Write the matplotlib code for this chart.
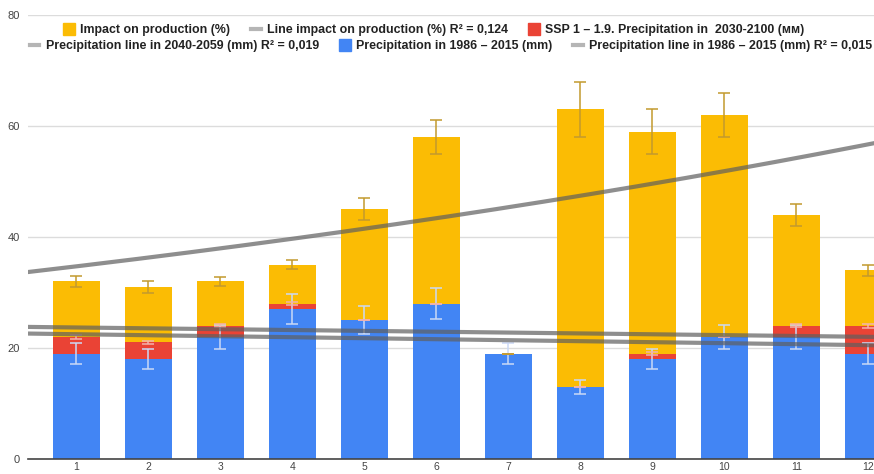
import numpy as np
import matplotlib
matplotlib.use("Agg")
import matplotlib.pyplot as plt
from matplotlib.lines import Line2D

plt.rcParams["font.family"] = ["Liberation Sans Narrow", "Liberation Sans", "DejaVu Sans"]

COLORS = {"base": "#4285F4", "ssp": "#EA4335", "impact": "#FBBC04", "trend": "#5f5f5f"}

months = np.arange(1, 13)
precip_base = [19, 18, 22, 27, 25, 28, 19, 13, 18, 22, 22, 19]
ssp_extra = [3, 3, 2, 1, 0, 0, 0, 0, 1, 0, 2, 5]
impact = [10, 10, 8, 7, 20, 30, 0, 50, 40, 40, 20, 10]

base_err = [1.9, 1.8, 2.2, 2.7, 2.5, 2.8, 1.9, 1.3, 1.8, 2.2, 2.2, 1.9]
ssp_err = [0.3, 0.3, 0.3, 0.3, 0, 0, 0, 0, 0.3, 0, 0.3, 0.4]
impact_err = [1, 1, 0.8, 0.8, 2, 3, 0, 5, 4, 4, 2, 1]

# trend lines
impact_trend = (33.2, 0.0446)      # a * exp(b * x)
precip_2040_trend = (23.85, -0.153)  # intercept, slope
precip_1986_trend = (22.66, -0.179)

labels_row1 = ["Impact on production (%)",
               "Line impact on production (%) R² = 0,124",
               "SSP 1 – 1.9. Precipitation in  2030-2100 (мм)"]
labels_row2 = ["Precipitation line in 2040-2059 (mm) R² = 0,019",
               "Precipitation in 1986 – 2015 (mm)",
               "Precipitation line in 1986 – 2015 (mm) R² = 0,015"]

fig = plt.figure(figsize=(8.74, 4.74), dpi=100)
ax = fig.add_axes([28 / 874, 15 / 474, 1 - 28 / 874, 444 / 474])

base = np.array(precip_base)
ssp_top = base + np.array(ssp_extra)
total = ssp_top + np.array(impact)
w = 0.65

ax.bar(months, precip_base, w, color=COLORS["base"], zorder=2)
ax.bar(months, ssp_extra, w, bottom=base, color=COLORS["ssp"], zorder=2)
ax.bar(months, impact, w, bottom=ssp_top, color=COLORS["impact"], zorder=2)

ekw = dict(fmt="none", capsize=4, elinewidth=1.1, capthick=1.1, zorder=3)
ax.errorbar(months, base, yerr=base_err, ecolor="#cbd9f6", **ekw)
ax.errorbar(months, ssp_top, yerr=ssp_err, ecolor="#f3b3ad", **ekw)
ax.errorbar(months, total, yerr=impact_err, ecolor="#c29a2e", **ekw)

xs = np.linspace(0.3, 12.2, 200)
a, b = impact_trend
ax.plot(xs, a * np.exp(b * xs), color=COLORS["trend"], lw=3, alpha=0.7, zorder=4)
ax.plot(xs, precip_2040_trend[0] + precip_2040_trend[1] * xs,
        color=COLORS["trend"], lw=3, alpha=0.7, zorder=4)
ax.plot(xs, precip_1986_trend[0] + precip_1986_trend[1] * xs,
        color=COLORS["trend"], lw=3, alpha=0.7, zorder=4)

ax.set_xlim(0.327, 12.08)
ax.set_ylim(0, 80)
ax.set_yticks([0, 20, 40, 60, 80])
ax.set_xticks(months)
ax.grid(axis="y", color="#dcdcdc", lw=1, zorder=0)
for s in ["left", "right", "top"]:
    ax.spines[s].set_visible(False)
ax.spines["bottom"].set_color("#444444")
ax.spines["bottom"].set_linewidth(1.2)
ax.spines["bottom"].set_zorder(5)
ax.tick_params(length=0, labelsize=7.5, colors="#444444")
ax.tick_params(axis="x", pad=2)
ax.tick_params(axis="y", pad=6, labelsize=8)

sq = dict(marker="s", linestyle="none", markersize=8)
ln = dict(color="#b5b5b5", lw=3)
row1 = [Line2D([], [], color=COLORS["impact"], **sq),
        Line2D([], [], **ln),
        Line2D([], [], color=COLORS["ssp"], **sq)]
row2 = [Line2D([], [], **ln),
        Line2D([], [], color=COLORS["base"], **sq),
        Line2D([], [], **ln)]

lkw = dict(ncol=3, frameon=False, handlelength=0.8, handletextpad=0.5, columnspacing=1.7,
           prop={"size": 8.9, "weight": "bold"}, borderaxespad=0, borderpad=0)
leg1 = fig.legend(row1, labels_row1, loc="center", bbox_to_anchor=(434 / 874, 1 - 30 / 474), **lkw)
leg2 = fig.legend(row2, labels_row2, loc="center", bbox_to_anchor=(451 / 874, 1 - 46 / 474), **lkw)
for leg in (leg1, leg2):
    for t in leg.get_texts():
        t.set_color("#222222")

fig.savefig("out.png", dpi=100)
